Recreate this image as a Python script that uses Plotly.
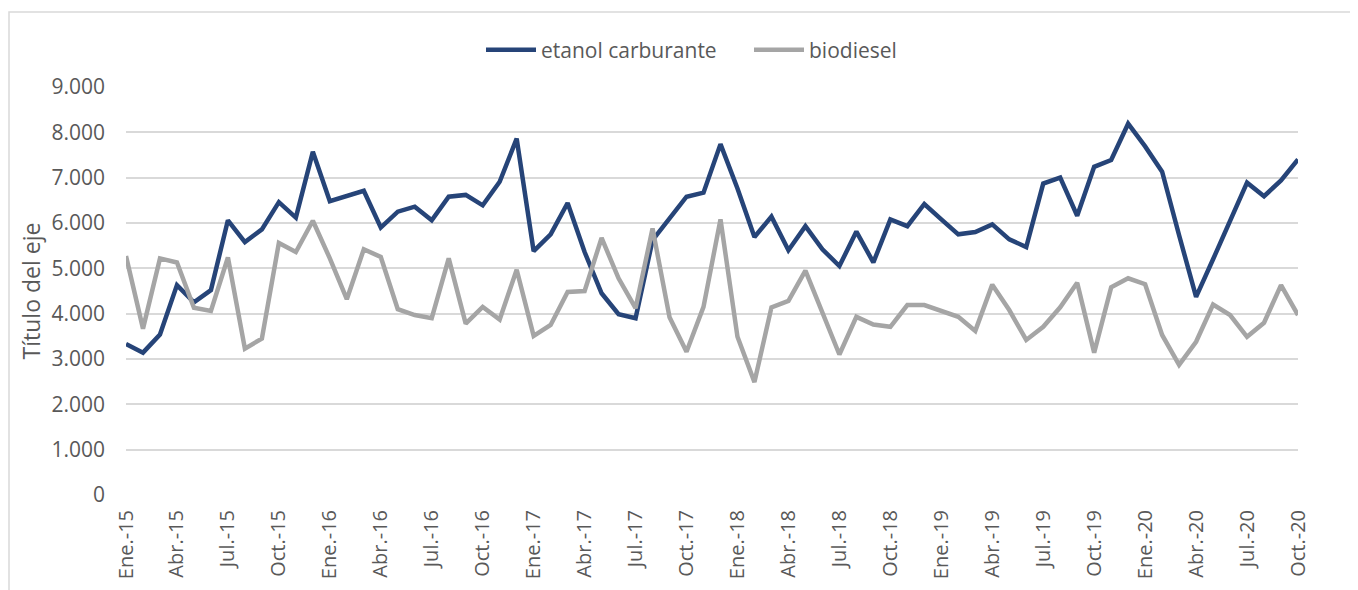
import plotly.graph_objects as go

months = ["Ene.", "Feb.", "Mar.", "Abr.", "May.", "Jun.", "Jul.", "Ago.", "Sep.", "Oct.", "Nov.", "Dic."]
years = ["15", "16", "17", "18", "19", "20"]
categories = [f"{m}-{y}" for y in years for m in months][:70]

etanol = [3.33, 3.14, 3.54, 4.63, 4.25, 4.52, 6.06, 5.58, 5.86, 6.46, 6.12, 7.57,
          6.48, 6.60, 6.71, 5.90, 6.25, 6.36, 6.06, 6.58, 6.62, 6.39, 6.91, 7.86,
          5.38, 5.75, 6.44, 5.36, 4.45, 3.99, 3.90, 5.62, 6.10, 6.58, 6.67, 7.74,
          6.76, 5.69, 6.14, 5.40, 5.93, 5.42, 5.05, 5.81, 5.13, 6.08, 5.93, 6.42,
          6.08, 5.75, 5.80, 5.97, 5.64, 5.47, 6.87, 7.00, 6.16, 7.24, 7.39, 8.19,
          7.69, 7.13, 5.73, 4.37, 5.20, 6.06, 6.89, 6.59, 6.94, 7.40]
etanol = [v * 1000 for v in etanol]

biodiesel = [5.27, 3.67, 5.22, 5.13, 4.13, 4.06, 5.24, 3.23, 3.45, 5.56, 5.36, 6.05,
             5.22, 4.32, 5.42, 5.25, 4.10, 3.97, 3.90, 5.22, 3.78, 4.15, 3.87, 4.97,
             3.51, 3.75, 4.48, 4.50, 5.67, 4.78, 4.12, 5.88, 3.92, 3.16, 4.15, 6.08,
             3.49, 2.49, 4.14, 4.28, 4.95, 4.00, 3.10, 3.93, 3.76, 3.71, 4.19, 4.19,
             4.06, 3.93, 3.62, 4.64, 4.08, 3.42, 3.71, 4.14, 4.68, 3.14, 4.58, 4.78,
             4.65, 3.53, 2.87, 3.38, 4.20, 3.97, 3.49, 3.80, 4.63, 3.97]
biodiesel = [v * 1000 for v in biodiesel]

y_ticks = [0, 1000, 2000, 3000, 4000, 5000, 6000, 7000, 8000, 9000]
y_ticktext = ["0", "1.000", "2.000", "3.000", "4.000", "5.000", "6.000", "7.000", "8.000", "9.000"]

idx = list(range(len(categories)))
tick_idx = idx[::3]
tick_text = [categories[i] for i in tick_idx]

FONT = "Open Sans"
TXT = "#595959"
fig = go.Figure()
fig.add_trace(go.Scatter(x=idx, y=etanol, mode="lines", name="etanol carburante",
                         line=dict(color="#264478", width=4.5)))
fig.add_trace(go.Scatter(x=idx, y=biodiesel, mode="lines", name="biodiesel",
                         line=dict(color="#A5A5A5", width=4.5)))

# plot area in viewport: x 126..1298, y 87..495 (page body adds 8px offset)
fig.update_layout(
    width=1358, height=590,
    margin=dict(l=118, r=68, t=79, b=103, autoexpand=False),
    paper_bgcolor="white", plot_bgcolor="white",
    font=dict(family=FONT, color=TXT, size=20),
    legend=dict(orientation="h", x=(749 - 126) / 1172, y=(495 - 50) / 408,
                xanchor="center", yanchor="middle",
                font=dict(size=21, color=TXT), itemwidth=50, entrywidth=203),
    showlegend=True,
    xaxis=dict(range=[0, 69], tickmode="array", tickvals=tick_idx, ticktext=tick_text,
               tickangle=-90, showgrid=False, zeroline=False, showline=False,
               tickfont=dict(size=20, color=TXT), ticks="", ticklabelstandoff=10,
               automargin=False),
    yaxis=dict(range=[0, 9000], tickmode="array", tickvals=y_ticks, ticktext=y_ticktext,
               showgrid=True, gridcolor="#D9D9D9", gridwidth=1.5, zeroline=False,
               tickfont=dict(size=21, color=TXT), ticks="", ticklabelstandoff=20,
               automargin=False,
               title=dict(text="Título del eje", font=dict(size=23, color=TXT), standoff=4)),
    shapes=[dict(type="rect", xref="paper", yref="paper",
                 x0=(9 - 126) / 1172, x1=(1420 - 126) / 1172,
                 y0=(495 - 640) / 408, y1=(495 - 12) / 408,
                 line=dict(color="#D9D9D9", width=1.5), fillcolor="rgba(0,0,0,0)", layer="below")],
)

fig.write_html("out.html")
